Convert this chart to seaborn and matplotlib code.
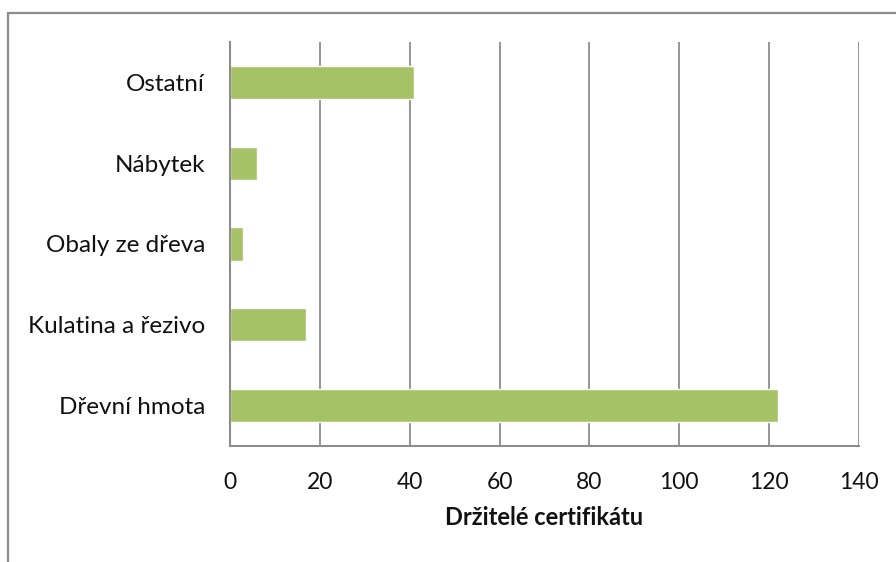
import matplotlib
matplotlib.use("Agg")
import matplotlib.pyplot as plt
import seaborn as sns
import pandas as pd
from matplotlib.patches import Rectangle

categories = ["Ostatní", "Nábytek", "Obaly ze dřeva", "Kulatina a řezivo", "Dřevní hmota"]
values = [41, 6, 3, 17, 122]
x_ticks = [0, 20, 40, 60, 80, 100, 120, 140]
x_label = "Držitelé certifikátu"

sns.set_theme(style="white")
plt.rcParams["font.family"] = ["Lato", "DejaVu Sans"]

df = pd.DataFrame({"kategorie": categories, "pocet": values})

W, H = 896, 562
fig = plt.figure(figsize=(W / 100, H / 100), dpi=100)
ax = fig.add_axes([230 / W, 1 - 446 / H, (859 - 230) / W, (446 - 42) / H])

sns.barplot(data=df, y="kategorie", x="pocet", orient="h", order=categories,
            color="#A5C266", saturation=1, width=0.41, ax=ax)

ax.set_xlim(0, 140)
ax.set_ylim(4.5, -0.5)
ax.set_xticks(x_ticks)
ax.set_xticklabels([str(t) for t in x_ticks], fontsize=16.5)
ax.tick_params(axis="y", labelsize=17.5, length=0, pad=18)
ax.tick_params(axis="x", length=0, pad=19)
for lbl in ax.get_yticklabels() + ax.get_xticklabels():
    lbl.set_color("#111111")
ax.set_ylabel("")
ax.set_xlabel(x_label, fontsize=17, fontweight="bold", labelpad=9, color="#111111")

ax.grid(axis="x", color="#8c8c8c", linewidth=1.3)
ax.set_axisbelow(True)
for side in ["top", "right"]:
    ax.spines[side].set_visible(False)
for side in ["left", "bottom"]:
    ax.spines[side].set_color("#8c8c8c")
    ax.spines[side].set_linewidth(1.5)

# outer chart border (extends past the right and bottom edges)
fig.patches.append(Rectangle((8 / W, -0.1), 1.2, 1 - 13 / H + 0.1,
                             transform=fig.transFigure, fill=False,
                             edgecolor="#8c8c8c", linewidth=1.6))

fig.savefig("out.png", dpi=100)
